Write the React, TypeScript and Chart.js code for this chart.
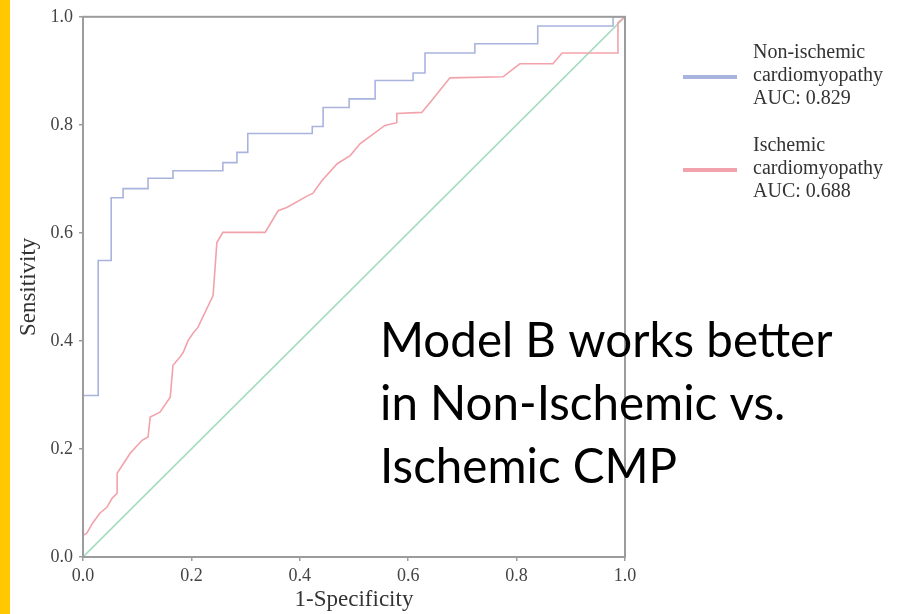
import React, { useEffect, useRef } from "react";
import { Chart, registerables } from "chart.js";

Chart.register(...registerables);

// Non-ischemic cardiomyopathy ROC (1-specificity, sensitivity)
const nonIschemicFpr = [0, 0, 0.028, 0.028, 0.052, 0.052, 0.074, 0.074, 0.12, 0.12, 0.166, 0.166, 0.258, 0.258, 0.284, 0.284, 0.304, 0.304, 0.423, 0.423, 0.443, 0.443, 0.491, 0.491, 0.539, 0.539, 0.609, 0.609, 0.631, 0.631, 0.723, 0.723, 0.839, 0.839, 0.978, 0.978, 1];
const nonIschemicTpr = [0, 0.299, 0.299, 0.549, 0.549, 0.665, 0.665, 0.682, 0.682, 0.701, 0.701, 0.715, 0.715, 0.73, 0.73, 0.749, 0.749, 0.784, 0.784, 0.797, 0.797, 0.832, 0.832, 0.848, 0.848, 0.882, 0.882, 0.896, 0.896, 0.933, 0.933, 0.95, 0.95, 0.983, 0.983, 1, 1];

// Ischemic cardiomyopathy ROC
const ischemicFpr = [0, 0, 0.007, 0.018, 0.031, 0.044, 0.054, 0.063, 0.063, 0.087, 0.109, 0.12, 0.124, 0.142, 0.161, 0.166, 0.179, 0.185, 0.194, 0.203, 0.212, 0.24, 0.247, 0.258, 0.336, 0.36, 0.376, 0.415, 0.424, 0.441, 0.469, 0.493, 0.511, 0.557, 0.579, 0.579, 0.625, 0.64, 0.677, 0.775, 0.806, 0.867, 0.884, 0.987, 0.987, 1];
const ischemicTpr = [0, 0.04, 0.044, 0.063, 0.081, 0.092, 0.109, 0.118, 0.155, 0.192, 0.216, 0.222, 0.259, 0.268, 0.296, 0.355, 0.37, 0.379, 0.401, 0.414, 0.425, 0.484, 0.582, 0.601, 0.601, 0.641, 0.647, 0.669, 0.673, 0.697, 0.728, 0.743, 0.765, 0.799, 0.804, 0.821, 0.823, 0.841, 0.887, 0.889, 0.913, 0.913, 0.933, 0.933, 0.989, 1];

// Reference (chance) line
const chanceFpr = [0, 1];
const chanceTpr = [0, 1];

const tickValues = [0, 0.2, 0.4, 0.6, 0.8, 1.0];

const legendEntries = [
  { lines: ["Non-ischemic", "cardiomyopathy", "AUC: 0.829"], color: "#a9b4de" },
  { lines: ["Ischemic", "cardiomyopathy", "AUC: 0.688"], color: "#f2a2aa" },
];

const overlayLines = ["Model B works better", "in Non-Ischemic vs.", "Ischemic CMP"];

const toPoints = (xs: number[], ys: number[]) => xs.map((x, i) => ({ x, y: ys[i] }));

const decorPlugin = {
  id: "decor",
  beforeDraw(chart: any) {
    const { ctx, width, height } = chart;
    ctx.save();
    ctx.fillStyle = "#ffffff";
    ctx.fillRect(0, 0, width, height);
    ctx.fillStyle = "#ffc800";
    ctx.fillRect(0, 0, 10, height);
    ctx.restore();
  },
  afterDraw(chart: any) {
    const { ctx, chartArea } = chart;
    const { left, right, top, bottom } = chartArea;
    ctx.save();
    // frame
    ctx.strokeStyle = "#9c9c9c";
    ctx.lineWidth = 2;
    ctx.strokeRect(left, top, right - left, bottom - top);

    // legend
    ctx.font = "20px 'Liberation Serif'";
    ctx.fillStyle = "#333333";
    ctx.textBaseline = "alphabetic";
    ctx.textAlign = "left";
    legendEntries.forEach((entry, i) => {
      const base = 58 + i * 93;
      entry.lines.forEach((t, j) => ctx.fillText(t, 753, base + j * 23));
      ctx.strokeStyle = entry.color;
      ctx.lineWidth = 4;
      ctx.beginPath();
      const ly = base + 19;
      ctx.moveTo(683, ly);
      ctx.lineTo(737, ly);
      ctx.stroke();
    });

    // overlay statement
    ctx.font = "47.5px Lato";
    ctx.fillStyle = "#000000";
    overlayLines.forEach((t, j) => ctx.fillText(t, 380, 357 + j * 63));
    ctx.restore();
  },
};

export default function App() {
  const canvasRef = useRef<HTMLCanvasElement | null>(null);

  useEffect(() => {
    if (!canvasRef.current) return;
    const tickFont = { family: "'Liberation Serif'", size: 18 };
    const titleFont = { family: "'Liberation Serif'", size: 23 };
    const chart = new Chart(canvasRef.current, {
      type: "scatter",
      data: {
        datasets: [
          {
            label: "Non-ischemic cardiomyopathy AUC: 0.829",
            data: toPoints(nonIschemicFpr, nonIschemicTpr),
            showLine: true,
            borderColor: "#a9b4de",
            borderWidth: 1.6,
            pointRadius: 0,
            fill: false,
          },
          {
            label: "Ischemic cardiomyopathy AUC: 0.688",
            data: toPoints(ischemicFpr, ischemicTpr),
            showLine: true,
            borderColor: "#f2a2aa",
            borderWidth: 1.6,
            pointRadius: 0,
            fill: false,
          },
          {
            label: "Chance",
            data: toPoints(chanceFpr, chanceTpr),
            showLine: true,
            borderColor: "#a6dcc0",
            borderWidth: 1.6,
            pointRadius: 0,
            fill: false,
          },
        ],
      },
      options: {
        responsive: false,
        animation: false,
        layout: { padding: { top: 16, right: 278, bottom: 0, left: 0 } },
        plugins: { legend: { display: false }, tooltip: { enabled: false } },
        scales: {
          x: {
            type: "linear",
            min: 0,
            max: 1,
            afterFit: (s: any) => { s.height = 57; },
            afterBuildTicks: (s: any) => { s.ticks = tickValues.map((v) => ({ value: v })); },
            border: { display: false },
            grid: { drawOnChartArea: false, drawTicks: true, tickLength: 4, color: "#9c9c9c", lineWidth: 1.5 },
            ticks: { font: tickFont, color: "#444444", padding: 4, callback: (v: any) => Number(v).toFixed(1), maxRotation: 0 },
            title: { display: true, text: "1-Specificity", font: titleFont, color: "#333333", padding: { top: 0, bottom: 0 } },
          },
          y: {
            type: "linear",
            min: 0,
            max: 1,
            afterFit: (s: any) => { s.width = 83; },
            afterBuildTicks: (s: any) => { s.ticks = tickValues.map((v) => ({ value: v })); },
            border: { display: false },
            grid: { drawOnChartArea: false, drawTicks: true, tickLength: 4, color: "#9c9c9c", lineWidth: 1.5 },
            ticks: { font: tickFont, color: "#444444", padding: 6, callback: (v: any) => Number(v).toFixed(1) },
            title: { display: true, text: "Sensitivity", font: titleFont, color: "#333333", padding: { top: 15, bottom: 0 } },
          },
        },
      },
      plugins: [decorPlugin],
    } as any);
    return () => chart.destroy();
  }, []);

  return (
    <div style={{ position: "fixed", left: 0, top: 0, width: 903, height: 614, background: "#fff" }}>
      <canvas ref={canvasRef} width={903} height={614} style={{ display: "block" }} />
    </div>
  );
}
